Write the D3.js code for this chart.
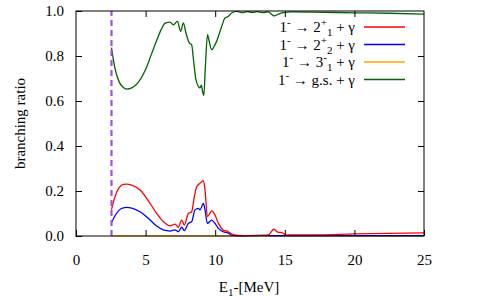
<!DOCTYPE html>
<html lang="en">
<head>
<meta charset="UTF-8">
<title>branching ratio</title>
<script src="https://cdn.jsdelivr.net/npm/d3@7"></script>
<style>
    body { margin: 0; background: #fff; }
    svg { display: block; }
</style>
</head>
<body>
<script>
    // 1- -> 2+_1 + gamma (red)
    var e21 = [2.55, 2.8, 3.1, 3.4, 3.64, 4.0, 4.6, 5.32, 5.8, 6.27, 6.75, 7.11, 7.35, 7.59, 7.78, 8.07, 8.31, 8.5, 8.67, 8.91, 9.15, 9.27, 9.44, 9.75, 9.99, 10.23, 10.58, 10.94, 11.18, 11.5, 12.0, 13.0, 13.8, 14.22, 14.5, 14.8, 15.1, 17.0, 20.0, 25.0];
    var r21 = [0.117, 0.175, 0.215, 0.229, 0.231, 0.226, 0.204, 0.145, 0.100, 0.064, 0.045, 0.053, 0.039, 0.071, 0.049, 0.100, 0.108, 0.175, 0.219, 0.234, 0.246, 0.204, 0.086, 0.112, 0.093, 0.056, 0.027, 0.019, 0.009, 0.004, 0.002, 0.002, 0.004, 0.030, 0.017, 0.015, 0.005, 0.005, 0.009, 0.014];
    // 1- -> 2+_2 + gamma (blue)
    var e22 = [2.55, 2.8, 3.1, 3.4, 3.64, 4.0, 4.6, 5.32, 5.8, 6.27, 6.75, 7.11, 7.35, 7.59, 7.78, 8.07, 8.31, 8.55, 8.79, 8.91, 9.15, 9.27, 9.44, 9.75, 9.99, 10.23, 10.58, 10.94, 11.18, 11.6, 13.0, 14.0, 25.0];
    var r22 = [0.059, 0.090, 0.115, 0.125, 0.127, 0.124, 0.108, 0.071, 0.044, 0.027, 0.022, 0.027, 0.019, 0.039, 0.024, 0.056, 0.064, 0.116, 0.123, 0.116, 0.145, 0.116, 0.056, 0.071, 0.056, 0.034, 0.019, 0.013, 0.004, 0.001, 0.003, 0.002, 0.002];
    // 1- -> 3-_1 + gamma (orange)
    var e31 = [2.55, 10.0, 25.0];
    var r31 = [0.001, 0.001, 0.001];
    // 1- -> g.s. + gamma (green)
    var egs = [2.55, 2.8, 3.1, 3.4, 3.64, 4.0, 4.5, 5.0, 5.4, 5.8, 6.1, 6.39, 6.75, 6.99, 7.28, 7.52, 7.71, 7.9, 8.14, 8.31, 8.43, 8.6, 8.79, 8.91, 9.0, 9.1, 9.18, 9.3, 9.45, 9.55, 9.75, 9.9, 10.1, 10.47, 10.7, 10.94, 11.18, 11.54, 12.0, 12.3, 12.7, 13.0, 13.4, 13.8, 14.25, 14.5, 14.9, 15.5, 17.0, 20.0, 22.5, 25.0];
    var rgs = [0.837, 0.745, 0.685, 0.660, 0.653, 0.658, 0.685, 0.740, 0.805, 0.870, 0.915, 0.945, 0.951, 0.939, 0.954, 0.910, 0.947, 0.902, 0.858, 0.850, 0.790, 0.700, 0.665, 0.658, 0.670, 0.640, 0.624, 0.760, 0.895, 0.870, 0.828, 0.840, 0.865, 0.932, 0.969, 0.976, 0.991, 0.998, 0.993, 0.997, 0.994, 0.997, 0.993, 0.996, 0.978, 0.985, 0.993, 0.996, 0.995, 0.992, 0.990, 0.986];

    var threshold = 2.55; // dashed line
    var xTicks = [0, 5, 10, 15, 20, 25];
    var yTicks = [0, 0.2, 0.4, 0.6, 0.8, 1.0];

    var series = [
        { e: e31, v: r31, color: "#ffa500" },
        { e: e22, v: r22, color: "#0000ff" },
        { e: e21, v: r21, color: "#ff0000" },
        { e: egs, v: rgs, color: "#006400" }
    ];

    var width = 498, height = 300;
    var margin = { left: 76, top: 11, right: 74, bottom: 64 };
    var w = width - margin.left - margin.right;
    var h = height - margin.top - margin.bottom;
    var serif = "'Liberation Serif'";

    var svg = d3.select("body").append("svg")
        .attr("width", width)
        .attr("height", height);

    var x = d3.scaleLinear().domain([0, 25]).range([margin.left, margin.left + w]);
    var y = d3.scaleLinear().domain([0, 1]).range([margin.top + h, margin.top]);

    // curves
    var line = d3.line()
        .x(function (d) { return x(d[0]); })
        .y(function (d) { return y(d[1]); })
        .curve(d3.curveMonotoneX);

    svg.append("g").selectAll("path")
        .data(series)
        .enter()
        .append("path")
        .attr("d", function (s) { return line(d3.zip(s.e, s.v)); })
        .attr("fill", "none")
        .attr("stroke", function (s) { return s.color; })
        .attr("stroke-width", 1.3)
        .attr("stroke-linejoin", "round");

    // dashed threshold line
    svg.append("line")
        .attr("x1", x(threshold)).attr("x2", x(threshold))
        .attr("y1", y(0)).attr("y2", y(1))
        .attr("stroke", "#a64ee6")
        .attr("stroke-width", 2.2)
        .attr("stroke-dasharray", "6,4");

    // axes with inward ticks, mirrored
    var tickLen = 6;
    var fs = 15;
    function clean(g) {
        g.attr("font-family", null).attr("font-size", null);
        g.select(".domain").remove();
        g.selectAll("text").style("font-family", serif).style("font-size", fs + "px").attr("fill", "#000");
    }
    svg.append("g")
        .attr("transform", "translate(0," + y(0) + ")")
        .call(d3.axisBottom(x).tickValues(xTicks).tickSize(-tickLen).tickPadding(tickLen + 12).tickFormat(d3.format("d")))
        .call(clean);
    svg.append("g")
        .attr("transform", "translate(0," + y(1) + ")")
        .call(d3.axisTop(x).tickValues(xTicks.slice(1, -1)).tickSize(-tickLen).tickFormat(""))
        .call(clean);
    svg.append("g")
        .attr("transform", "translate(" + x(0) + ",0)")
        .call(d3.axisLeft(y).tickValues(yTicks).tickSize(-tickLen).tickPadding(tickLen + 6).tickFormat(d3.format(".1f")))
        .call(clean);
    svg.append("g")
        .attr("transform", "translate(" + x(25) + ",0)")
        .call(d3.axisRight(y).tickValues(yTicks.slice(1, -1)).tickSize(-tickLen).tickFormat(""))
        .call(clean);

    // frame
    svg.append("rect")
        .attr("x", margin.left).attr("y", margin.top)
        .attr("width", w).attr("height", h)
        .attr("fill", "none").attr("stroke", "#000").attr("stroke-width", 1);

    // axis labels
    svg.append("text")
        .attr("transform", "translate(25," + (margin.top + h / 2) + ") rotate(-90)")
        .attr("text-anchor", "middle")
        .style("font-family", serif).style("font-size", fs + "px")
        .text("branching ratio");

    var xl = svg.append("text")
        .attr("x", 249).attr("y", 292)
        .attr("text-anchor", "middle")
        .style("font-family", serif).style("font-size", fs + "px");
    xl.append("tspan").text("E");
    xl.append("tspan").style("font-size", "11px").attr("dy", 4).text("1");
    xl.append("tspan").attr("dy", -4).text("-[MeV]");

    // legend
    var legend = [
        { sup: "+", sub: "1", state: "2", color: "#ff0000" },
        { sup: "+", sub: "2", state: "2", color: "#0000ff" },
        { sup: "-", sub: "1", state: "3", color: "#ffa500" },
        { sup: null, sub: null, state: "g.s.", color: "#006400" }
    ];
    var ly0 = 27, ldy = 17.5;
    legend.forEach(function (d, i) {
        var yy = ly0 + i * ldy;
        var t = svg.append("text")
            .attr("x", 355).attr("y", yy + 5)
            .attr("text-anchor", "end")
            .style("font-family", serif).style("font-size", fs + "px");
        t.append("tspan").text("1");
        t.append("tspan").style("font-size", "11px").attr("dy", -6).text("-");
        t.append("tspan").attr("dy", 6).text(" \u2192  " + d.state);
        if (d.sup) {
            t.append("tspan").style("font-size", "11px").attr("dy", -6).text(d.sup);
            t.append("tspan").style("font-size", "11px").attr("dy", 10).text(d.sub);
            t.append("tspan").attr("dy", -4).text(" + \u03b3");
        } else {
            t.append("tspan").text(" + \u03b3");
        }
        svg.append("line")
            .attr("x1", 364).attr("x2", 405)
            .attr("y1", yy).attr("y2", yy)
            .attr("stroke", d.color)
            .attr("stroke-width", 1.3);
    });
</script>
</body>
</html>
